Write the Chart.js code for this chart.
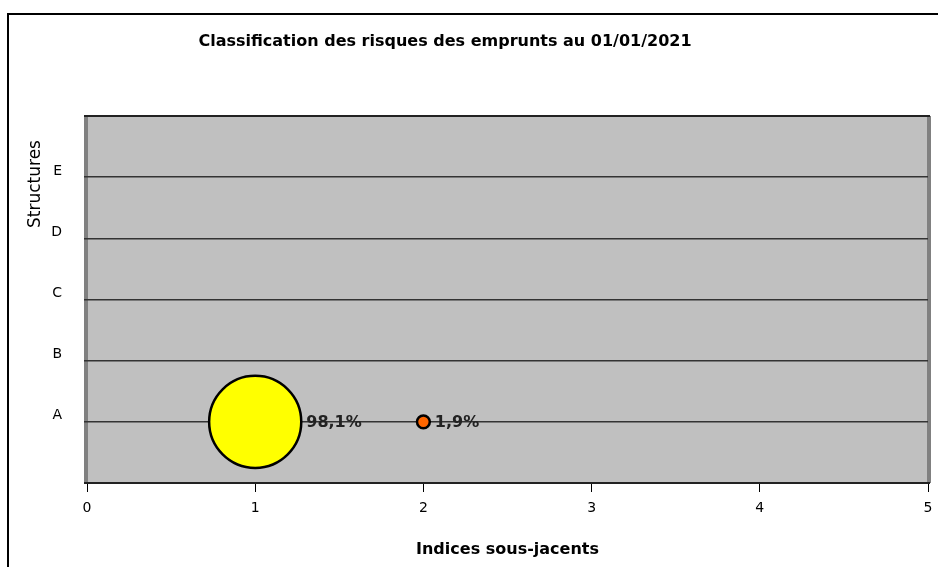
<!DOCTYPE html>
<html>
<head>
<meta charset="utf-8">
<script src="https://cdn.jsdelivr.net/npm/chart.js@4/dist/chart.umd.min.js"></script>
<style>
  html, body { margin: 0; padding: 0; background: #fff; }
  #wrap { width: 938px; height: 567px; }
</style>
</head>
<body>
<div id="wrap"><canvas id="riskChart" width="938" height="567"></canvas></div>
<script>
// Classification des risques
const titleText = "Classification des risques des emprunts au 01/01/2021";
const xTitle = "Indices sous-jacents";
const yTitle = "Structures";
const structureLabels = ["", "A", "B", "C", "D", "E", ""];
const indices = [1, 2];        // x position (index)
const structures = [1, 1];     // y position (A = 1)
const shares = [98.1, 1.9];    // % of debt
const shareLabels = ["98,1%", "1,9%"];
const bubbleColors = ["#ffff00", "#ff6600"];

const FONT = "DejaVu Sans";

// bubble area proportional to the share, like the spreadsheet does
const bubbleData = indices.map((x, i) => ({ x, y: structures[i], r: 4.65 * Math.sqrt(shares[i]) }));

/* frame, plot background and texts */
const decor = {
  id: "decor",
  beforeDraw(chart) {
    const { ctx, chartArea: a } = chart;
    ctx.save();
    // outer frame
    ctx.strokeStyle = "#000";
    ctx.lineWidth = 2;
    ctx.beginPath();
    ctx.moveTo(8, 567);
    ctx.lineTo(8, 14);
    ctx.lineTo(938, 14);
    ctx.stroke();
    // plot area
    ctx.fillStyle = "#c0c0c0";
    ctx.fillRect(a.left, a.top, a.right - a.left, a.bottom - a.top);
    ctx.fillStyle = "#808080";
    ctx.fillRect(a.left - 3, a.top, 4, a.bottom - a.top);
    ctx.fillRect(a.right - 1, a.top, 4, a.bottom - a.top);
    ctx.restore();
  },
  afterDatasetsDraw(chart) {
    const { ctx, chartArea: a } = chart;
    ctx.save();
    // plot borders
    ctx.strokeStyle = "#222";
    ctx.lineWidth = 2;
    ctx.beginPath();
    ctx.moveTo(a.left - 3, a.bottom);
    ctx.lineTo(a.right + 2, a.bottom);
    ctx.moveTo(a.left - 3, a.top);
    ctx.lineTo(a.right + 2, a.top);
    ctx.stroke();

    ctx.fillStyle = "#000";
    ctx.font = "bold 16px " + FONT;
    ctx.textAlign = "center";
    ctx.textBaseline = "middle";
    ctx.fillText(titleText, 445, 42);
    ctx.fillText(xTitle, a.left + (a.right - a.left) / 2, 550);

    ctx.save();
    ctx.translate(36, 184);
    ctx.rotate(-Math.PI / 2);
    ctx.font = "17px " + FONT;
    ctx.fillText(yTitle, 0, 0);
    ctx.restore();

    // data labels
    ctx.font = "bold 16px " + FONT;
    ctx.fillStyle = "#222";
    ctx.textAlign = "left";
    const meta = chart.getDatasetMeta(0);
    meta.data.forEach((pt, i) => {
      const r = bubbleData[i].r;
      ctx.fillText(shareLabels[i], pt.x + r + 5, pt.y + 1);
    });
    ctx.restore();
  }
};

new Chart(document.getElementById("riskChart"), {
  type: "bubble",
  data: {
    datasets: [{
      data: bubbleData,
      backgroundColor: bubbleColors,
      borderColor: "#000",
      borderWidth: 2.5,
      hoverRadius: 0
    }]
  },
  options: {
    responsive: false,
    animation: false,
    layout: { autoPadding: false, padding: { left: 0, top: 116, right: 10, bottom: 0 } },
    plugins: { legend: { display: false }, tooltip: { enabled: false } },
    scales: {
      x: {
        type: "linear",
        min: 0, max: 5,
        afterFit: s => { s.height = 84; s.paddingLeft = 0; s.paddingRight = 0; },
        border: { display: false },
        grid: { drawOnChartArea: false, drawTicks: true, tickLength: 9, color: "#000" },
        ticks: { stepSize: 1, color: "#000", padding: 8, font: { family: FONT, size: 14 } }
      },
      y: {
        type: "linear",
        min: 0, max: 6,
        afterFit: s => { s.width = 87; },
        border: { display: false },
        grid: { color: "#333", lineWidth: 1.5, tickLength: 3, drawTicks: true },
        ticks: {
          stepSize: 1, color: "#000", padding: 22, labelOffset: -6,
          font: { family: FONT, size: 14 },
          callback: v => structureLabels[v]
        }
      }
    }
  },
  plugins: [decor]
});
</script>
</body>
</html>
